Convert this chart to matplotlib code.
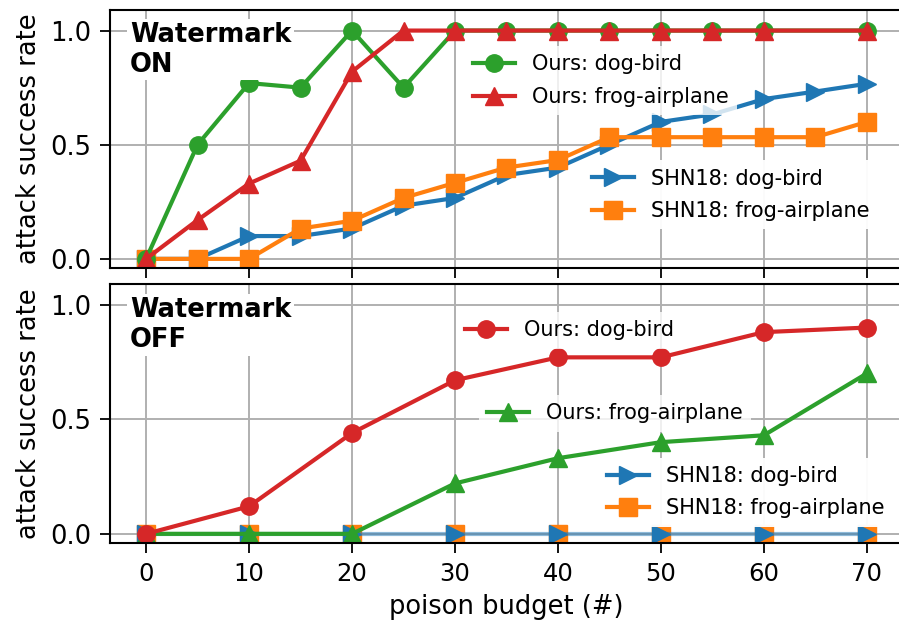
import matplotlib
matplotlib.use("Agg")
import matplotlib.pyplot as plt

# ---- data ----
budget_on = [0, 5, 10, 15, 20, 25, 30, 35, 40, 45, 50, 55, 60, 65, 70]
budget_on_ours = [0, 5, 10, 15, 20, 25, 30, 35, 40, 45, 50, 55, 60, 70]
on_ours_dog_bird = [0, 0.5, 0.77, 0.75, 1.0, 0.75, 1.0, 1.0, 1.0, 1.0, 1.0, 1.0, 1.0, 1.0]
on_ours_frog_airplane = [0, 0.17, 0.33, 0.43, 0.82, 1.0, 1.0, 1.0, 1.0, 1.0, 1.0, 1.0, 1.0, 1.0]
on_shn_dog_bird = [0, 0, 0.1, 0.1, 0.133, 0.233, 0.267, 0.367, 0.4, 0.5,
                   0.6, 0.633, 0.7, 0.733, 0.767]
on_shn_frog_airplane = [0, 0, 0, 0.133, 0.167, 0.267, 0.333, 0.4, 0.433, 0.533,
                        0.533, 0.533, 0.533, 0.533, 0.6]

budget_off = [0, 10, 20, 30, 40, 50, 60, 70]
off_ours_dog_bird = [0, 0.12, 0.44, 0.67, 0.77, 0.77, 0.88, 0.9]
off_ours_frog_airplane = [0, 0, 0, 0.22, 0.33, 0.40, 0.43, 0.70]
off_shn_dog_bird = [0, 0, 0, 0, 0, 0, 0, 0]
off_shn_frog_airplane = [0, 0, 0, 0, 0, 0, 0, 0]

xticks = [0, 10, 20, 30, 40, 50, 60, 70]
yticks = [0.0, 0.5, 1.0]

LW = 3
MS = 12.5
TICK_FS = 17.5
YTICK_FS = 18.5
LABEL_FS = 18.5
LEG_FS = 15

fig = plt.figure(figsize=(8.99, 6.22), dpi=100)
ax1 = fig.add_axes([0.1224, 0.5691, 0.882, 0.4148])
ax2 = fig.add_axes([0.1224, 0.1270, 0.882, 0.4164])


def style_axes(ax, show_xlabels):
    ax.set_xlim(-3.5, 73.5)
    ax.set_ylim(-0.04, 1.09)
    ax.set_xticks(xticks)
    ax.set_yticks(yticks)
    ax.set_yticklabels(["%.1f" % v for v in yticks])
    ax.grid(True, color="#b0b0b0", lw=1.4)
    ax.set_axisbelow(True)
    for sp in ax.spines.values():
        sp.set_linewidth(1.5)
    ax.tick_params(length=7, width=1.3, pad=6.5)
    ax.tick_params(axis="x", labelsize=TICK_FS)
    ax.tick_params(axis="y", labelsize=YTICK_FS)
    if not show_xlabels:
        ax.tick_params(labelbottom=False)
    ax.set_ylabel("attack success rate", fontsize=LABEL_FS, labelpad=6)


def add_legend(ax, handles, anchor):
    leg = ax.legend(handles=handles, loc="upper left", bbox_to_anchor=anchor,
                    borderaxespad=0, fontsize=LEG_FS, labelspacing=0.6)
    fr = leg.get_frame()
    fr.set_facecolor("white")
    fr.set_edgecolor("none")
    fr.set_alpha(0.8)
    ax.add_artist(leg)
    return leg


# ---- watermark ON ----
style_axes(ax1, False)
shn_db, = ax1.plot(budget_on, on_shn_dog_bird, color="C0", marker=">",
                   lw=LW, ms=MS, label="SHN18: dog-bird")
shn_fa, = ax1.plot(budget_on, on_shn_frog_airplane, color="C1", marker="s",
                   lw=LW, ms=MS, label="SHN18: frog-airplane")
ours_db, = ax1.plot(budget_on_ours, on_ours_dog_bird, color="C2", marker="o",
                    lw=LW, ms=MS, label="Ours: dog-bird")
ours_fa, = ax1.plot(budget_on_ours, on_ours_frog_airplane, color="C3", marker="^",
                    lw=LW, ms=MS, label="Ours: frog-airplane")

ax1.text(0.025, 0.955, "Watermark\nON", transform=ax1.transAxes, fontsize=LABEL_FS,
         fontweight="bold", va="top", ha="left",
         bbox=dict(facecolor="white", edgecolor="none", pad=2))

add_legend(ax1, [ours_db, ours_fa], (0.4477, 0.86))
add_legend(ax1, [shn_db, shn_fa], (0.5977, 0.418))

# ---- watermark OFF ----
style_axes(ax2, True)
ax2.plot(budget_off, off_shn_frog_airplane, color=(1.0, 0.498, 0.055, 0.0),
         marker="s", mfc="C1", mec="C1", lw=LW, ms=MS)
ax2.plot(budget_off, off_shn_dog_bird, color=(0.122, 0.467, 0.706, 0.5),
         marker=">", mfc="C0", mec="C0", lw=LW, ms=MS)
off_fa, = ax2.plot(budget_off, off_ours_frog_airplane, color="C2", marker="^",
                   lw=LW, ms=MS, label="Ours: frog-airplane")
off_db, = ax2.plot(budget_off, off_ours_dog_bird, color="C3", marker="o",
                   lw=LW, ms=MS, label="Ours: dog-bird")

ax2.text(0.025, 0.95, "Watermark\nOFF", transform=ax2.transAxes, fontsize=LABEL_FS,
         fontweight="bold", va="top", ha="left",
         bbox=dict(facecolor="white", edgecolor="none", pad=2))

add_legend(ax2, [off_db], (0.4376, 0.892))
add_legend(ax2, [off_fa], (0.4653, 0.571))
add_legend(ax2, [shn_db, shn_fa], (0.6166, 0.33))

ax2.set_xlabel("poison budget (#)", fontsize=LABEL_FS, labelpad=6)

fig.savefig("out.png", dpi=100)
